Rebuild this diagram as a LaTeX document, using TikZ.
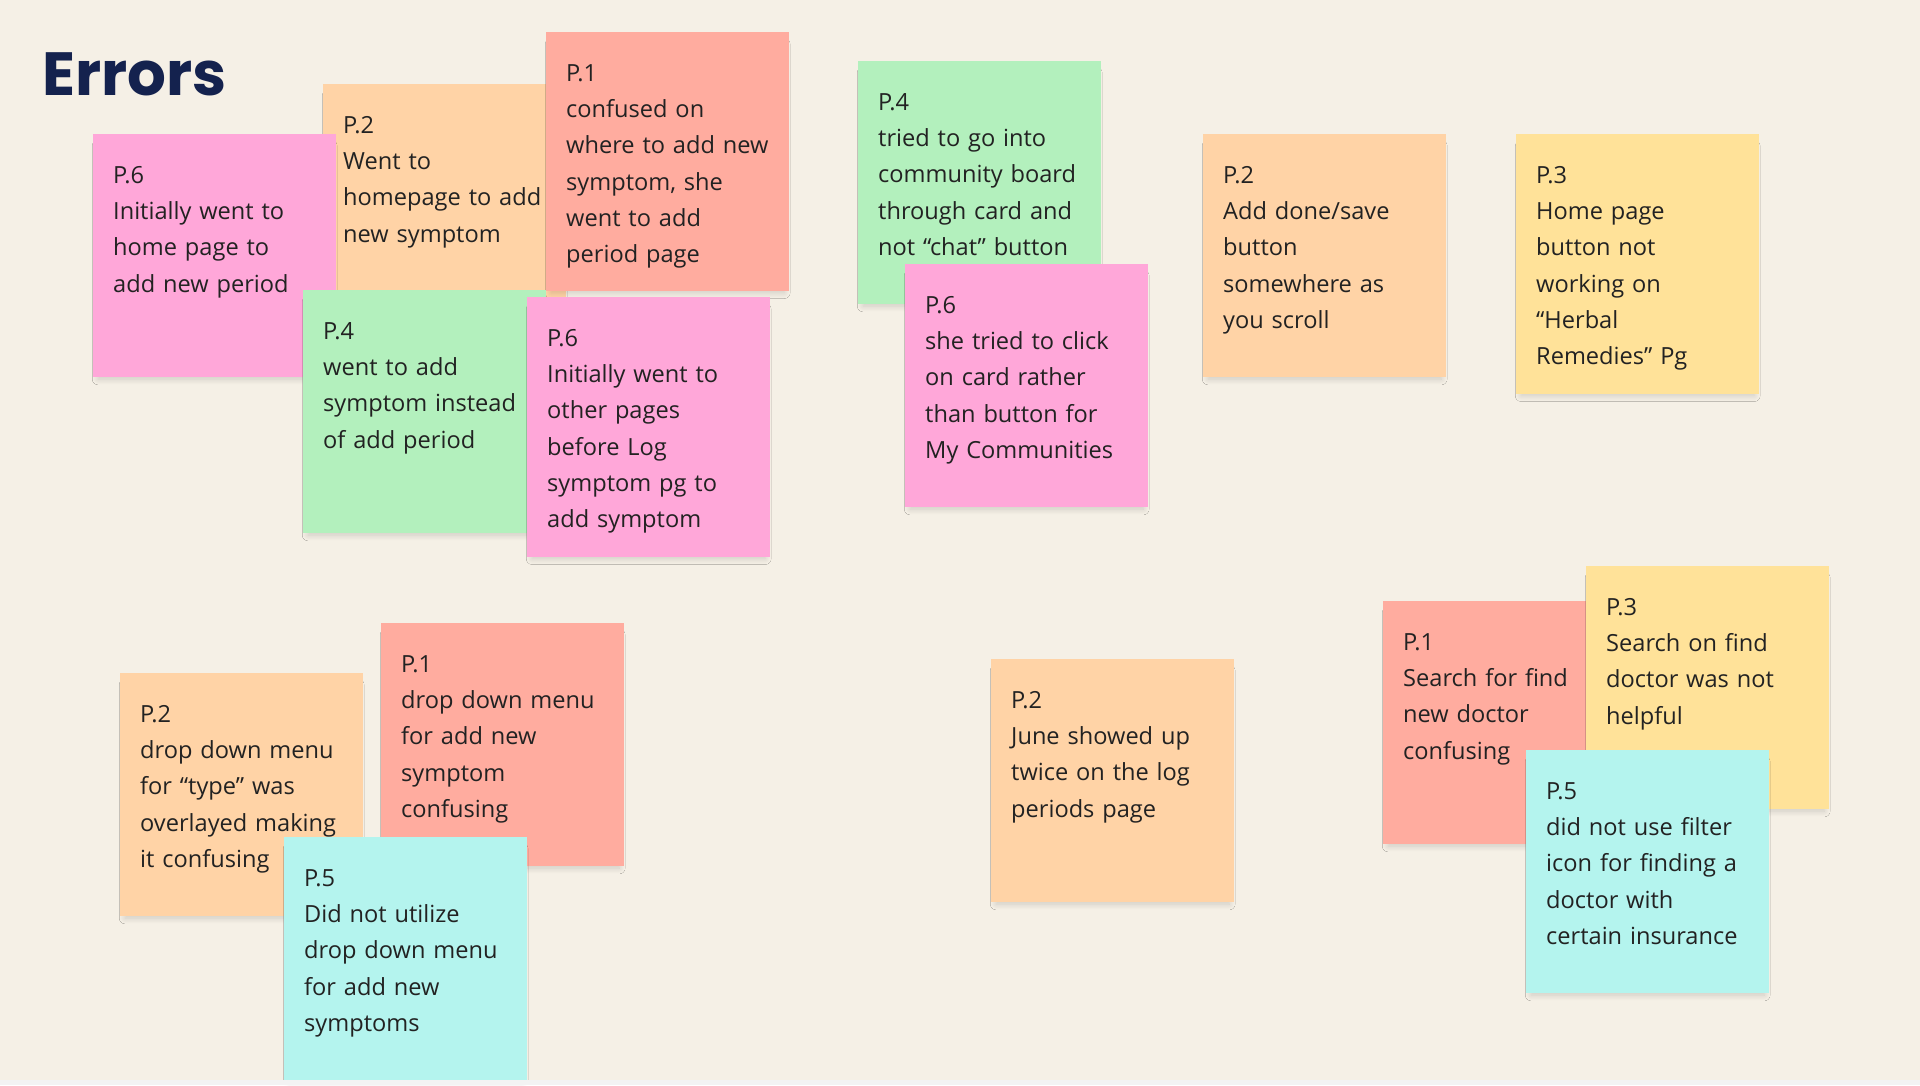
\documentclass[tikz,border=0pt]{standalone}
\usepackage{fontspec}
\setmainfont{Open Sans}
\newfontfamily\titlefont{Poppins}
\usetikzlibrary{shadows.blur}
\definecolor{bgc}{HTML}{F5F0E6}
\definecolor{stripc}{HTML}{F3F3F3}
\definecolor{pinkc}{HTML}{FFA7D9}
\definecolor{orangec}{HTML}{FFD3A6}
\definecolor{salmonc}{HTML}{FFAC9F}
\definecolor{greenc}{HTML}{B3F0BD}
\definecolor{yellowc}{HTML}{FFE299}
\definecolor{cyanc}{HTML}{B4F4EE}
\definecolor{titlec}{HTML}{14224E}
\definecolor{textc}{HTML}{222222}
\tikzset{
  note/.style={rectangle, draw=none, inner sep=0pt, anchor=north west,
    minimum width=243pt, minimum height=#1,
    blur shadow={shadow xshift=0pt, shadow yshift=-7pt, shadow scale=0.96, shadow blur radius=6pt, shadow opacity=16, shadow blur steps=12}},
  note/.default=243pt,
  ntext/.style={anchor=north west, inner sep=0pt, text width=225pt, align=left,
    text=textc, font=\fontsize{23.6pt}{36.3pt}\selectfont},
}
\newcommand{\fl}{\rule{0pt}{20pt}}
\begin{document}
\begin{tikzpicture}[x=1pt,y=-1pt]
\useasboundingbox (0,0) rectangle (1920,1085);
\fill[bgc] (0,0) rectangle (1920,1085);

\node[anchor=base west, inner sep=0pt, text=titlec, font=\titlefont\bfseries\fontsize{61pt}{66pt}\selectfont] (title) at (42,95) {Errors};

% cluster 1
\node[note, fill=orangec] (n2) at (323,84) {};
\node[ntext] (t2) at ([xshift=20pt,yshift=-29pt]n2.north west) {\fl P.2\\Went to\\homepage to add\\new symptom};
\node[note=259pt, fill=salmonc] (n3) at (546,32) {};
\node[ntext] (t3) at ([xshift=20pt,yshift=-29pt]n3.north west) {\fl P.1\\confused on\\where to add new\\symptom, she\\went to add\\period page};
\node[note, fill=pinkc] (n1) at (93,134) {};
\node[ntext] (t1) at ([xshift=20pt,yshift=-29pt]n1.north west) {\fl P.6\\Initially went to\\home page to\\add new period};
\node[note, fill=greenc] (n4) at (303,290) {};
\node[ntext] (t4) at ([xshift=20pt,yshift=-29pt]n4.north west) {\fl P.4\\went to add\\symptom instead\\of add period};
\node[note=260pt, fill=pinkc] (n5) at (527,297) {};
\node[ntext] (t5) at ([xshift=20pt,yshift=-29pt]n5.north west) {\fl P.6\\Initially went to\\other pages\\before Log\\symptom pg to\\add symptom};

% cluster 2
\node[note, fill=greenc] (n6) at (858,61) {};
\node[ntext] (t6) at ([xshift=20pt,yshift=-29pt]n6.north west) {\fl P.4\\tried to go into\\community board\\through card and\\not “chat” button};
\node[note, fill=pinkc] (n7) at (905,264) {};
\node[ntext] (t7) at ([xshift=20pt,yshift=-29pt]n7.north west) {\fl P.6\\she tried to click\\on card rather\\than button for\\My Communities};

\node[note, fill=orangec] (n8) at (1203,134) {};
\node[ntext] (t8) at ([xshift=20pt,yshift=-29pt]n8.north west) {\fl P.2\\Add done/save\\button\\somewhere as\\you scroll};
\node[note=260pt, fill=yellowc] (n9) at (1516,134) {};
\node[ntext] (t9) at ([xshift=20pt,yshift=-29pt]n9.north west) {\fl P.3\\Home page\\button not\\working on\\“Herbal\\Remedies” Pg};

% bottom left
\node[note, fill=orangec] (n10) at (120,673) {};
\node[ntext] (t10) at ([xshift=20pt,yshift=-29pt]n10.north west) {\fl P.2\\drop down menu\\for “type” was\\overlayed making\\it confusing};
\node[note, fill=salmonc] (n11) at (381,623) {};
\node[ntext] (t11) at ([xshift=20pt,yshift=-29pt]n11.north west) {\fl P.1\\drop down menu\\for add new\\symptom\\confusing};
\node[note, fill=cyanc] (n12) at (284,837) {};
\node[ntext] (t12) at ([xshift=20pt,yshift=-29pt]n12.north west) {\fl P.5\\Did not utilize\\drop down menu\\for add new\\symptoms};

% bottom middle
\node[note, fill=orangec] (n13) at (991,659) {};
\node[ntext] (t13) at ([xshift=20pt,yshift=-29pt]n13.north west) {\fl P.2\\June showed up\\twice on the log\\periods page};

% bottom right
\node[note, fill=salmonc] (n14) at (1383,601) {};
\node[ntext] (t14) at ([xshift=20pt,yshift=-29pt]n14.north west) {\fl P.1\\Search for find\\new doctor\\confusing};
\node[note, fill=yellowc] (n15) at (1586,566) {};
\node[ntext] (t15) at ([xshift=20pt,yshift=-29pt]n15.north west) {\fl P.3\\Search on find\\doctor was not\\helpful};
\node[note, fill=cyanc] (n16) at (1526,750) {};
\node[ntext] (t16) at ([xshift=20pt,yshift=-29pt]n16.north west) {\fl P.5\\did not use filter\\icon for finding a\\doctor with\\certain insurance};

\fill[stripc] (0,1080) rectangle (1920,1085);
\end{tikzpicture}
\end{document}
